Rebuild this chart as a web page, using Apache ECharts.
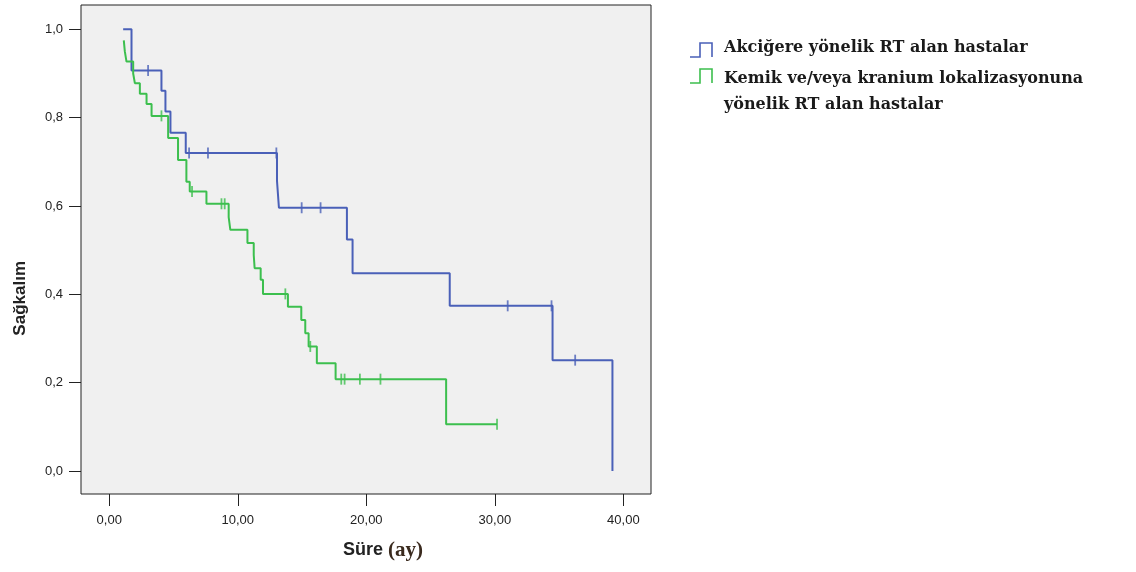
<!DOCTYPE html>
<html>
<head>
<meta charset="utf-8">
<script src="https://cdn.jsdelivr.net/npm/echarts@6/dist/echarts.min.js"></script>
<style>
html,body{margin:0;padding:0;background:#fff;}
#c{width:1136px;height:572px;}
</style>
</head>
<body>
<div id="c"></div>
<script>
// Kaplan-Meier curves: [time (ay), survival]
var blueName = 'Akciğere yönelik RT alan hastalar';
var greenName = 'Kemik ve/veya kranium lokalizasyonuna\nyönelik RT alan hastalar';

var blueSteps = [[1.08,1.0],[1.73,0.907],[4.06,0.861],[4.37,0.814],[4.76,0.766],[5.95,0.72],[13.05,0.657],[13.2,0.596],[18.49,0.524],[18.93,0.448],[26.49,0.374],[34.49,0.251],[39.15,0]];
var blueCensored = [[3.02,0.907],[6.21,0.72],[7.68,0.72],[13.0,0.72],[14.97,0.596],[16.44,0.596],[31.0,0.374],[34.41,0.374],[36.25,0.251]];

var greenSteps = [[1.13,0.975],[1.21,0.95],[1.34,0.927],[1.86,0.9],[1.99,0.878],[2.38,0.854],[2.9,0.831],[3.29,0.804],[4.58,0.754],[5.35,0.704],[6.0,0.655],[6.26,0.633],[7.56,0.605],[9.29,0.575],[9.42,0.546],[10.75,0.516],[11.24,0.489],[11.31,0.459],[11.78,0.433],[11.96,0.401],[13.9,0.372],[14.94,0.342],[15.25,0.312],[15.51,0.282],[16.15,0.244],[17.61,0.208],[26.21,0.106],[30.17,0.106]];
var greenCensored = [[4.06,0.804],[6.44,0.633],[8.73,0.605],[8.98,0.605],[13.7,0.401],[15.64,0.282],[18.05,0.208],[18.31,0.208],[19.5,0.208],[21.1,0.208],[30.17,0.106]];

var xTicks = [0, 10, 20, 30, 40];
var yTicks = [0, 0.2, 0.4, 0.6, 0.8, 1.0];

var blueColor = '#4a60b8';
var greenColor = '#3cbf4e';

var chart = echarts.init(document.getElementById('c'), null, {renderer: 'canvas'});

function fmtX(v){ return v.toFixed(2).replace('.', ','); }
function fmtY(v){ return v.toFixed(1).replace('.', ','); }

function legendIcon(x, y, color){
  return {
    type: 'polyline',
    shape: {points: [[x, y + 14], [x + 10, y + 14], [x + 10, y], [x + 22, y], [x + 22, y + 14]]},
    style: {stroke: color, lineWidth: 1.6, fill: null}
  };
}

var option = {
  animation: false,
  backgroundColor: '#ffffff',
  grid: {
    left: 81, top: 5, right: 485, bottom: 78,
    show: true, backgroundColor: '#f0f0f0', borderColor: '#222', borderWidth: 1
  },
  xAxis: {
    type: 'value', min: -2.2, max: 42.15,
    axisLine: {show: false, onZero: false},
    splitLine: {show: false},
    axisTick: {show: true, length: 12, customValues: xTicks, lineStyle: {color: '#222', width: 1}},
    axisLabel: {customValues: xTicks, formatter: fmtX, margin: 20, fontFamily: 'Liberation Sans', fontSize: 13, color: '#222'}
  },
  yAxis: {
    type: 'value', min: -0.052, max: 1.055,
    axisLine: {show: false, onZero: false},
    splitLine: {show: false},
    axisTick: {show: true, length: 12, customValues: yTicks, lineStyle: {color: '#222', width: 1}},
    axisLabel: {customValues: yTicks, formatter: fmtY, margin: 18, fontFamily: 'Liberation Sans', fontSize: 13, color: '#222'}
  },
  graphic: [
    {type: 'text', left: 12, top: 261, rotation: Math.PI / 2,
     style: {text: 'Sağkalım', font: 'bold 17px "Liberation Sans"', fill: '#222'}},
    {type: 'text', left: 343, top: 540,
     style: {rich: {
       a: {fontFamily: 'Liberation Sans', fontWeight: 'bold', fontSize: 18, fill: '#222'},
       b: {fontFamily: 'Liberation Serif', fontWeight: 'bold', fontSize: 21, fill: '#3a2a1e'}
     }, text: '{a|Süre }{b|(ay)}'}},
    legendIcon(690, 43, blueColor),
    legendIcon(690, 69, greenColor),
    {type: 'text', left: 724, top: 40,
     style: {text: blueName, font: 'bold 16px "DejaVu Serif"', fill: '#1a1a1a'}},
    {type: 'text', left: 724, top: 66,
     style: {text: greenName, font: 'bold 16px "DejaVu Serif"', fill: '#1a1a1a', lineHeight: 26}}
  ],
  series: [
    {name: blueName, type: 'line', step: 'end', data: blueSteps, showSymbol: false,
     lineStyle: {color: blueColor, width: 2}, itemStyle: {color: blueColor}},
    {name: greenName, type: 'line', step: 'end', data: greenSteps, showSymbol: false,
     lineStyle: {color: greenColor, width: 2}, itemStyle: {color: greenColor}},
    {type: 'scatter', data: blueCensored, symbol: 'rect', symbolSize: [1.8, 11],
     itemStyle: {color: blueColor}},
    {type: 'scatter', data: greenCensored, symbol: 'rect', symbolSize: [1.8, 11],
     itemStyle: {color: greenColor}}
  ]
};
chart.setOption(option);
</script>
</body>
</html>
